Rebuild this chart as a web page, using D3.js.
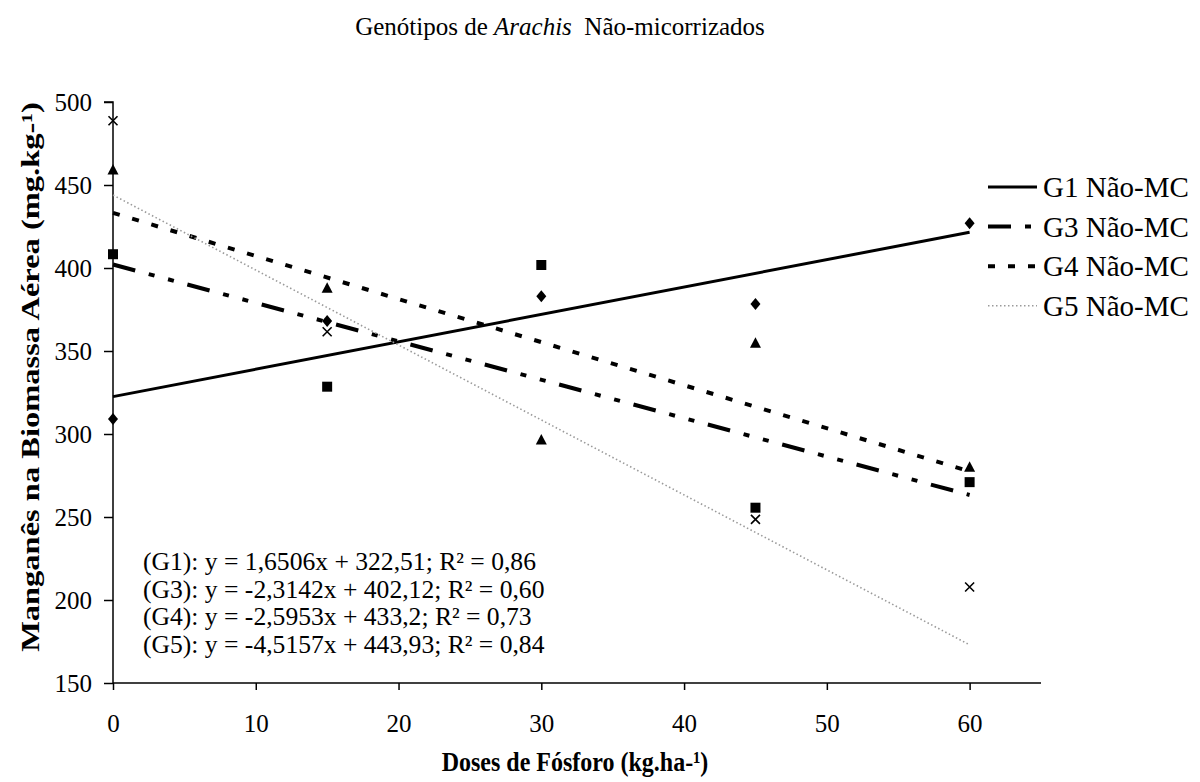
<!DOCTYPE html>
<html>
<head>
<meta charset="utf-8">
<script src="https://cdn.jsdelivr.net/npm/d3@7"></script>
<style>
  body { margin: 0; background: #fff; }
  text { font-family: "Liberation Serif", "Times New Roman", Times, serif; fill: #000; }
</style>
</head>
<body>
<div class="container"></div>
<script>
// data
var doses = [0, 15, 30, 45, 60];
var g1 = [309, 368, 383, 378.3, 427];
var g3 = [408.3, 328.5, 401.8, 255.6, 271];
var g4 = [459, 387.8, 296.4, 354.6, 280];
var g5 = [488.7, 361.6, null, 248.6, 207.8];   // point at 30 is not visible in the picture
var seriesNames = ["G1 Não-MC", "G3 Não-MC", "G4 Não-MC", "G5 Não-MC"];
var slopes = [1.6506, -2.3142, -2.5953, -4.5157];
var intercepts = [322.51, 402.12, 433.2, 443.93];
var equations = [
  "(G1): y = 1,6506x + 322,51; R² = 0,86",
  "(G3): y = -2,3142x + 402,12; R² = 0,60",
  "(G4): y = -2,5953x + 433,2; R² = 0,73",
  "(G5): y = -4,5157x + 443,93; R² = 0,84"
];
var xTicks = [0, 10, 20, 30, 40, 50, 60];
var yTicks = [150, 200, 250, 300, 350, 400, 450, 500];

var width = 1200, height = 782;
var margin = {top: 102, left: 113};
var plotW = 928, plotH = 581;
var serif = "Liberation Serif, Times New Roman, serif";

//styles per series
var marks = ["diamond", "square", "triangle", "cross"];
var lineStyle = [
  {stroke: "#000", w: 3, dash: null},
  {stroke: "#000", w: 4, dash: "23,14,6,14,6,14"},
  {stroke: "#000", w: 4, dash: "7,13"},
  {stroke: "#9a9a9a", w: 1.6, dash: "1.5,2.5"}
];

var svg = d3.select(".container").append("svg")
    .attr("width", width)
    .attr("height", height)
    .attr("font-family", serif);

var x = d3.scaleLinear().domain([0, 65]).range([0, plotW]);
var y = d3.scaleLinear().domain([150, 500]).range([plotH, 0]);

var g = svg.append("g")
    .attr("transform", "translate(" + margin.left + "," + margin.top + ")");

// title
var title = svg.append("text")
    .attr("x", 560).attr("y", 35)
    .attr("text-anchor", "middle")
    .style("font-size", "25px");
title.append("tspan").text("Genótipos de ");
title.append("tspan").style("font-style", "italic").text("Arachis");
title.append("tspan").attr("xml:space", "preserve").text("  Não-micorrizados");

// axes
var yAxis = d3.axisLeft(y).tickValues(yTicks).tickSize(9).tickPadding(12);
var xAxis = d3.axisBottom(x).tickValues(xTicks).tickSize(7).tickPadding(24);

var gy = g.append("g").call(yAxis);
var gx = g.append("g").attr("transform", "translate(0," + plotH + ")").call(xAxis);
[gx, gy].forEach(function(ax) {
  ax.attr("font-family", serif);
  ax.select(".domain").attr("stroke", "#000").attr("stroke-width", 1.5);
  ax.selectAll(".tick line").attr("stroke", "#000").attr("stroke-width", 1.5);
  ax.selectAll(".tick text").style("font-family", serif)
    .style("font-size", "25px").attr("fill", "#000");
});
gy.select(".domain").attr("d", "M0," + plotH + "V0H-9");
gx.select(".domain").attr("d", "M0,0H" + plotW);

// axis titles (the source text is drawn a little stretched)
svg.append("text")
    .attr("transform", "translate(575,771) scale(1,1.15)")
    .attr("text-anchor", "middle")
    .style("font-size", "24px").style("font-weight", "bold")
    .text("Doses de Fósforo (kg.ha-¹)");
svg.append("text")
    .attr("transform", "translate(39,377) rotate(-90) scale(1.3,1)")
    .attr("text-anchor", "middle")
    .style("font-size", "25px").style("font-weight", "bold")
    .text("Manganês na Biomassa Aérea (mg.kg-¹)");

// trend lines
var trend = g.append("g");
slopes.forEach(function(s, i) {
  var line = d3.line().x(function(d) { return x(d); }).y(function(d) { return y(s * d + intercepts[i]); });
  trend.append("path")
    .attr("d", line([0, 60]))
    .attr("fill", "none")
    .attr("stroke", lineStyle[i].stroke)
    .attr("stroke-width", lineStyle[i].w)
    .attr("stroke-dasharray", lineStyle[i].dash);
});

// markers
function markPath(kind) {
  if (kind == "diamond") return "M0,-6L5,0L0,6L-5,0Z";
  if (kind == "square") return "M-5,-5H5V5H-5Z";
  if (kind == "triangle") return "M0,-6L5.5,4.5H-5.5Z";
  return "M-4.5,-4.5L4.5,4.5M4.5,-4.5L-4.5,4.5";
}
var allSeries = [g1, g3, g4, g5];
allSeries.forEach(function(vals, i) {
  var pts = doses.map(function(d, j) { return {x: d, y: vals[j]}; })
    .filter(function(p) { return p.y != null; });
  g.append("g").selectAll("path").data(pts).enter().append("path")
    .attr("transform", function(p) { return "translate(" + x(p.x) + "," + y(p.y) + ")"; })
    .attr("d", markPath(marks[i]))
    .attr("fill", marks[i] == "cross" ? "none" : "#000")
    .attr("stroke", marks[i] == "cross" ? "#000" : "none")
    .attr("stroke-width", 1.6);
});

// equations
var eq = svg.append("g");
equations.forEach(function(t, i) {
  eq.append("text")
    .attr("x", 143).attr("y", 570 + i * 27.6)
    .style("font-size", "25.6px")
    .text(t);
});

// legend
var leg = svg.append("g").attr("transform", "translate(988,187)");
seriesNames.forEach(function(n, i) {
  var row = leg.append("g").attr("transform", "translate(0," + (i * 39.6) + ")");
  row.append("line")
    .attr("x1", 0).attr("x2", 49).attr("y1", 0).attr("y2", 0)
    .attr("stroke", lineStyle[i].stroke)
    .attr("stroke-width", lineStyle[i].w)
    .attr("stroke-dasharray", lineStyle[i].dash);
  row.append("text")
    .attr("x", 55).attr("y", 0).attr("dy", "0.35em")
    .style("font-size", "29px")
    .text(n);
});
</script>
</body>
</html>
